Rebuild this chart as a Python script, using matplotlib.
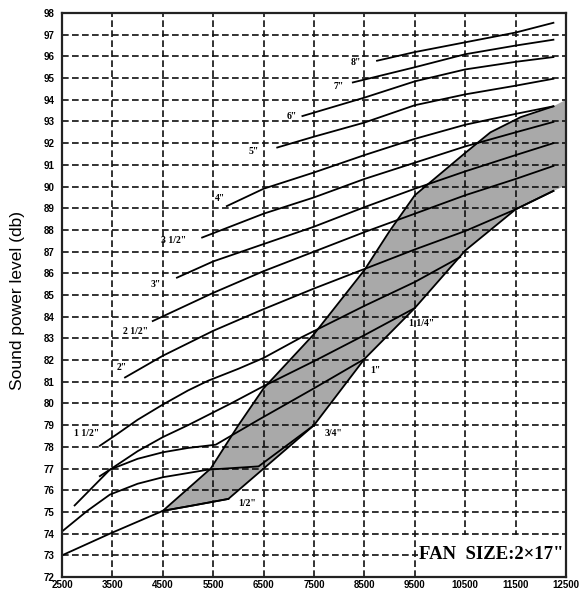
import matplotlib
matplotlib.use("Agg")
import matplotlib.pyplot as plt
from matplotlib.patches import Rectangle

# pipe-size curves (airflow vs sound power level)
x_half = [2500, 3450, 4500, 5100, 5800]
y_half = [73.0, 74.0, 75.05, 75.3, 75.6]
x_3q = [2500, 3000, 3450, 4000, 4500, 5400, 6400, 7500]
y_3q = [74.1, 75.05, 75.8, 76.3, 76.6, 76.95, 77.1, 79.0]
x_1 = [2750, 3450, 4000, 4500, 5000, 5550, 6400, 7500, 8500]
y_1 = [75.3, 76.95, 77.45, 77.75, 77.95, 78.1, 79.25, 80.7, 82.05]
x_1q = [3250, 3450, 4000, 4500, 5000, 5850, 6500, 7500, 8500, 9500]
y_1q = [76.65, 76.95, 77.8, 78.45, 79.0, 80.0, 80.8, 81.95, 83.15, 84.4]
x_1h = [3250, 3600, 4000, 4500, 5000, 5400, 6000, 6500, 7250, 8500, 9500, 10400]
y_1h = [78.05, 78.6, 79.25, 79.95, 80.6, 81.05, 81.6, 82.1, 83.05, 84.5, 85.6, 86.75]
x_2 = [3750, 4500, 5500, 6500, 7500, 8500, 9500, 10500, 11500, 12250]
y_2 = [81.2, 82.2, 83.35, 84.35, 85.3, 86.2, 87.1, 87.95, 88.95, 89.8]
x_2h = [4300, 5500, 6500, 7500, 8500, 9500, 10500, 11500, 12250]
y_2h = [83.8, 85.1, 86.1, 87.0, 87.9, 88.75, 89.6, 90.35, 90.95]
x_3 = [4780, 5500, 6500, 7500, 8500, 9500, 10500, 11500, 12250]
y_3 = [85.8, 86.55, 87.35, 88.15, 89.05, 89.9, 90.7, 91.45, 92.0]
x_3h = [5280, 6500, 7500, 8500, 9500, 10500, 11500, 12250]
y_3h = [87.65, 88.75, 89.5, 90.35, 91.1, 91.85, 92.5, 92.98]
x_4 = [5770, 6500, 7500, 8500, 9500, 10500, 11500, 12250]
y_4 = [89.1, 89.9, 90.65, 91.45, 92.2, 92.85, 93.35, 93.7]
x_5 = [6770, 7500, 8500, 9500, 10500, 11500, 12250]
y_5 = [91.8, 92.3, 92.95, 93.75, 94.25, 94.65, 94.97]
x_6 = [7270, 8500, 9500, 10500, 11500, 12250]
y_6 = [93.25, 94.1, 94.85, 95.4, 95.75, 95.97]
x_7 = [8270, 9500, 10500, 11500, 12250]
y_7 = [94.8, 95.5, 96.1, 96.5, 96.77]
x_8 = [8750, 9500, 10500, 11500, 12250]
y_8 = [95.8, 96.2, 96.65, 97.1, 97.55]

# shaded band
band_up_x = [4500, 5450, 6000, 6500, 7500, 8500, 9000, 9500, 10500, 11000, 11600, 12250, 12500]
band_up_y = [75.05, 77.0, 79.0, 80.7, 83.2, 86.15, 87.95, 89.6, 91.55, 92.5, 93.2, 93.7, 94.0]
band_lo_x = [4500, 5100, 5800, 6500, 7500, 8500, 9500, 10500, 11500, 12250, 12500]
band_lo_y = [75.05, 75.3, 75.6, 77.0, 79.0, 82.05, 84.4, 87.05, 88.95, 89.8, 90.05]

labels = ['1/2"', '3/4"', '1"', '1 1/4"', '1 1/2"', '2"', '2 1/2"', '3"',
          '3 1/2"', '4"', '5"', '6"', '7"', '8"']
label_x = [6170, 7890, 8720, 9640, 2990, 3690, 3950, 4350, 4710, 5640, 6300, 7050, 7990, 8330]
label_y = [75.4, 78.6, 81.5, 83.7, 78.6, 81.65, 83.3, 85.5, 87.5, 89.45, 91.6, 93.25, 94.6, 95.7]

x_ticks = [2500, 3500, 4500, 5500, 6500, 7500, 8500, 9500, 10500, 11500, 12500]
y_ticks = list(range(72, 99))

curves = [(x_half, y_half), (x_3q, y_3q), (x_1, y_1), (x_1q, y_1q), (x_1h, y_1h),
          (x_2, y_2), (x_2h, y_2h), (x_3, y_3), (x_3h, y_3h), (x_4, y_4),
          (x_5, y_5), (x_6, y_6), (x_7, y_7), (x_8, y_8)]

fig = plt.figure(figsize=(5.84, 5.92), dpi=100)
ax = fig.add_axes([0.1062, 0.0253, 0.863, 0.9527])
ax.set_xlim(2500, 12500)
ax.set_ylim(72, 98)

# band: fill the area between the two boundaries
poly_x = band_up_x + band_lo_x[::-1]
poly_y = band_up_y + band_lo_y[::-1]
ax.fill(poly_x, poly_y, color='#a9a9a9', lw=0, zorder=0.2)
ax.plot(band_up_x[:-1], band_up_y[:-1], color='k', lw=1.3, zorder=2)
ax.plot(band_lo_x[:-1], band_lo_y[:-1], color='k', lw=1.3, zorder=2)

for cx, cy in curves:
    ax.plot(cx, cy, color='k', lw=1.3, zorder=2)

for t, lx, ly in zip(labels, label_x, label_y):
    ax.text(lx, ly, t, fontsize=7, family='Liberation Serif', fontweight='bold',
            ha='center', va='center', zorder=3)

ax.set_xticks(x_ticks)
ax.set_yticks(y_ticks)
ax.set_axisbelow(True)
ax.grid(True, color='#111111', lw=1.2, ls=(0, (4, 2)))
ax.tick_params(length=0)
ax.tick_params(axis='x', pad=2)
ax.tick_params(axis='y', pad=5.5)
for lab in ax.get_xticklabels() + ax.get_yticklabels():
    lab.set_fontsize(7)
    lab.set_fontweight('bold')
    lab.set_family('Liberation Sans')

for s in ax.spines.values():
    s.set_linewidth(1.6)
    s.set_color('#222222')

ax.set_ylabel('Sound power level (db)', fontsize=12.5, family='Liberation Sans')
ax.yaxis.set_label_coords(-0.073, 0.49)

# white area behind the fan size note
ax.add_patch(Rectangle((9560, 72.03), 2920, 1.92, facecolor='white', edgecolor='none', zorder=1))
ax.text(12460, 73.05, 'FAN  SIZE:2\u00d717"', fontsize=13.5, family='Liberation Serif',
        fontweight='bold', ha='right', va='center', zorder=3)

fig.savefig('out.png', dpi=100)
